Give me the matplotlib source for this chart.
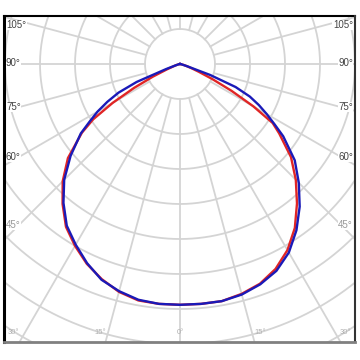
import matplotlib.pyplot as plt
import numpy as np
from matplotlib.lines import Line2D
from matplotlib.patches import Rectangle

plt.rcParams['font.family'] = ['Liberation Sans', 'DejaVu Sans']

# gamma angles (deg from nadir) and intensities, both half-planes
gamma = [0, 5, 10, 15, 20, 25, 30, 35, 40, 45, 50, 55, 57.5, 60, 62.5, 65, 67.5, 70, 72.5, 75, 80, 90]
blue_left = [344, 344, 342, 336, 328, 314, 298, 282, 259, 234, 204, 173, 153, 136, 117, 97, 67, 21, 7, 3, 1, 0]
blue_right = [344, 344, 344, 341, 335, 326, 311, 290, 266, 240, 214, 180, 160, 143, 127, 110, 86, 46, 11, 4, 1, 0]
red_left = [344, 344, 343, 337, 327, 315, 300, 284, 261, 237, 209, 171, 147, 111, 74, 43, 21, 11, 7, 4, 1, 0]
red_right = [344, 344, 344, 340, 334, 323, 307, 286, 260, 234, 207, 173, 157, 121, 83, 51, 29, 17, 10, 6, 1, 0]

side_labels = ['105°', '90°', '75°', '60°', '45°']
bottom_labels = ['30°', '15°', '0°', '15°', '30°']

ring_step = 50
rmax = 500

W = 360
fig = plt.figure(figsize=(3.6, 3.6), dpi=100)
R = 350  # pixels for rmax
cx, cy = 180, 64  # centre in pixels (from top)
ax = fig.add_axes([(cx - R) / W, (W - cy - R) / W, 2 * R / W, 2 * R / W], projection='polar')
ax.set_theta_zero_location('S')
ax.set_ylim(0, rmax)
ax.grid(False)
ax.set_xticks([])
ax.set_yticks([])
ax.spines['polar'].set_visible(False)

grid_col = '#d4d4d4'
t = np.linspace(0, 2 * np.pi, 721)
for r in range(ring_step, rmax + 1, ring_step):
    ax.plot(t, np.full_like(t, r), color=grid_col, lw=1.3, zorder=1)
for a in range(0, 360, 15):
    ax.plot([np.radians(a)] * 2, [ring_step, rmax], color=grid_col, lw=1.3, zorder=1)


def curve(left, right):
    th = np.concatenate([-np.array(gamma[::-1]), np.array(gamma[1:])])
    rr = np.concatenate([np.array(left[::-1]), np.array(right[1:])])
    return np.radians(th), rr


th, rr = curve(red_left, red_right)
ax.plot(th, rr, color='#e02525', lw=1.7, zorder=3)
th, rr = curve(blue_left, blue_right)
ax.plot(th, rr, color='#1a1ab8', lw=1.7, zorder=4)

# white margins outside the frame
L, Rt, T, B = 4 / W, 355 / W, 1 - 16 / W, 1 - 342 / W
for x0, y0, w, h in [(0, T, 1, 1 - T), (0, 0, 1, B), (0, 0, L, 1), (Rt, 0, 1 - Rt, 1)]:
    fig.add_artist(Rectangle((x0, y0), w, h, transform=fig.transFigure,
                             facecolor='white', edgecolor='none', zorder=10))
fig.add_artist(Line2D([L, L], [B, T], transform=fig.transFigure, color='black', lw=2.2, zorder=11))
fig.add_artist(Line2D([L, Rt], [T, T], transform=fig.transFigure, color='black', lw=1.5, zorder=11))
fig.add_artist(Line2D([Rt, Rt], [B, T], transform=fig.transFigure, color='#333333', lw=1.5, zorder=11))
fig.add_artist(Line2D([L, Rt], [B, B], transform=fig.transFigure, color='#808080', lw=2, zorder=11))

side_y = [25, 63, 107, 157, 225]
for lab, y in zip(side_labels, side_y):
    col = '#444444' if lab != '45°' else '#999999'
    fig.text(6 / W, 1 - y / W, lab, ha='left', va='center', fontsize=7, color=col, zorder=12,
             bbox=dict(facecolor='white', edgecolor='none', pad=0.3))
    fig.text(353 / W, 1 - y / W, lab, ha='right', va='center', fontsize=7, color=col, zorder=12,
             bbox=dict(facecolor='white', edgecolor='none', pad=0.3))

bottom_x = [13, 100, 180, 260, 345]
for lab, x in zip(bottom_labels, bottom_x):
    fig.text(x / W, 1 - 333 / W, lab, ha='center', va='center', fontsize=5.5, color='#b0b0b0', zorder=12)

fig.savefig('out.png', dpi=100, facecolor='white')
